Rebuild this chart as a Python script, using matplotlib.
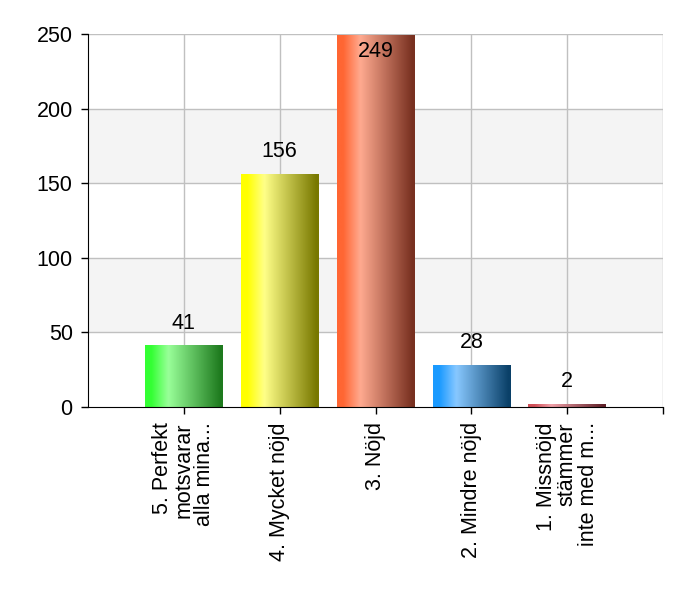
import matplotlib
matplotlib.use("Agg")
import matplotlib.pyplot as plt
import numpy as np
from matplotlib.colors import LinearSegmentedColormap

plt.rcParams['font.family'] = ['Liberation Sans', 'DejaVu Sans']

categories = ["5. Perfekt\nmotsvarar\nalla mina...", "4. Mycket nöjd", "3. Nöjd",
              "2. Mindre nöjd", "1. Missnöjd\nstämmer\ninte med m..."]
values = [41, 156, 249, 28, 2]
yticks = [0, 50, 100, 150, 200, 250]

base_colors = ["#33ff33", "#ffff00", "#ff6633", "#1a9aff", "#d05058"]
light_colors = ["#99ff99", "#ffff88", "#ffaa90", "#88c8ff", "#f0a0a8"]
dark_colors = ["#1e7a1e", "#787800", "#783020", "#0a4068", "#602028"]

FS = 15.5

fig = plt.figure(figsize=(7, 6), dpi=100)
ax = fig.add_axes([88/700, 1-407/600, (663-88)/700, (407-34)/600])

x = np.arange(len(categories))
ax.set_xlim(-1, len(categories))
ax.set_ylim(0, 250)

# bands
for lo in (50, 150):
    ax.axhspan(lo, lo+50, color="#f4f4f4", zorder=0, lw=0)
for yv in yticks[1:]:
    ax.axhline(yv, color="#c0c0c0", lw=1, zorder=1)
for xv in list(x) + [len(categories)]:
    ax.axvline(xv, color="#c0c0c0", lw=1, zorder=1)

bars = ax.bar(x, values, width=0.81, color="none", zorder=2)
grad = np.linspace(0, 1, 256)[None, :]
for b, c0, c1, c2 in zip(bars, base_colors, light_colors, dark_colors):
    cmap = LinearSegmentedColormap.from_list("g", [(0, c0), (0.08, c0), (0.3, c1), (0.97, c2), (1.0, c2)])
    bx, bw, bh = b.get_x(), b.get_width(), b.get_height()
    ax.imshow(grad, cmap=cmap, aspect="auto", extent=(bx, bx+bw, 0, bh),
              zorder=3, interpolation="bicubic")

for xi, v in zip(x, values):
    if v > 230:
        ax.text(xi, v - 4, str(v), ha="center", va="top", fontsize=FS, zorder=5)
    else:
        ax.text(xi, v + 8, str(v), ha="center", va="bottom", fontsize=FS, zorder=5)

ax.set_yticks(yticks)
ax.set_yticklabels([str(t) for t in yticks], fontsize=FS)
ax.set_xticks(list(x) + [len(categories)])
ax.set_xticklabels(categories + [""], rotation=90, fontsize=FS, ha="center", va="top",
                   multialignment="right", linespacing=1.0)
ax.tick_params(axis="both", direction="out", length=5, width=1, color="black")
ax.tick_params(axis="x", pad=6)
ax.tick_params(axis="y", pad=6)
for side in ("top", "right"):
    ax.spines[side].set_visible(False)
ax.spines["left"].set_color("black")
ax.spines["bottom"].set_color("black")
ax.spines["left"].set_zorder(6)
ax.spines["bottom"].set_zorder(6)

fig.savefig("out.png", dpi=100)
